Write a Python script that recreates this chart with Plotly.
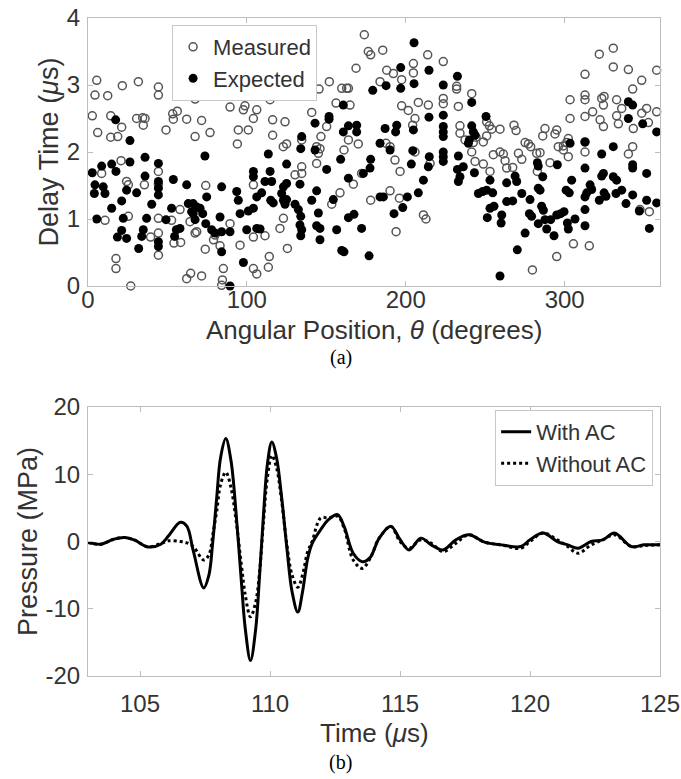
import plotly.graph_objects as go

# ---------------- (a) Delay time vs angular position ----------------
measured_theta = [
    5.5, 4.4, 12.4, 2.7, 6.1, 14.3, 21.2, 14.3, 18.7, 21.6, 31.7, 30.6, 34.4, 35.9, 34.8,
    44.3, 44.3, 49.1, 53.3, 56.2, 53.7, 62.1, 67.4, 71.5, 67.4, 76.8, 89.4, 98.8, 97.8, 106.2,
    104.1, 100.9, 94.6, 94.0, 20.8, 8.6, 24.3, 25.4, 35.5, 44.3, 44.3, 10.7, 25.4, 44.3, 52.6,
    57.9, 64.2, 68.4, 67.4, 39.4, 44.3, 44.3, 54.1, 58.3, 73.8, 74.1, 80.0, 79.0, 83.1, 89.4,
    95.7, 104.1, 104.1, 17.6, 17.6, 26.9, 62.1, 64.6, 71.5, 85.2, 84.6, 84.1, 104.1, 106.2,
    173.9, 176.4, 177.9, 185.5, 168.7, 188.0, 192.2, 204.8, 213.8, 223.6, 151.9, 145.4, 159.7, 162.8, 163.9,
    183.8, 197.4, 204.8, 114.6, 116.2, 124.0, 116.2, 140.8, 156.1, 164.9, 197.4, 201.6, 207.9, 214.2, 205.8,
    223.6, 223.6, 150.2, 146.6, 163.9, 170.1, 161.1, 143.9, 145.0, 143.9, 122.9, 125.0, 134.5, 187.6, 190.1,
    204.3, 205.8, 215.3, 193.2, 196.4, 134.5, 134.5, 130.3, 172.2, 158.6, 153.4, 177.9, 190.1, 196.0, 211.1,
    212.7, 193.9, 123.0, 120.8, 111.4, 125.5, 114.1, 113.5, 167.0, 146.0,
    232.0, 232.0, 241.5, 233.1, 234.1, 234.1, 237.3, 242.5, 244.2, 241.5, 250.9, 252.6, 254.1, 250.9, 248.8,
    243.6, 248.8, 253.0, 259.3, 255.1, 259.3, 261.4, 262.5, 263.5, 267.3, 268.1, 269.4, 270.9, 273.0, 275.1,
    277.2, 278.6, 282.4, 284.5, 282.8, 286.2, 287.6, 290.8, 293.9, 295.0, 299.2, 301.3, 302.3, 302.3, 312.8,
    312.8, 303.4, 303.4, 312.8, 312.8, 312.8, 312.8, 317.6, 321.8, 330.6, 330.6, 340.1, 323.3, 324.8, 324.4,
    322.3, 324.4, 332.7, 335.9, 332.7, 333.8, 342.8, 348.5, 357.9, 343.2, 348.5, 351.6, 352.7, 357.9, 342.8,
    340.1, 347.4, 353.3, 305.5, 315.5, 295.0, 279.7, 296.0, 299.2,
]
measured_delay = [
    3.07, 2.85, 2.84, 2.54, 2.29, 2.54, 2.37, 2.22, 2.23, 2.99, 3.05, 2.50, 2.51, 2.50, 2.40,
    2.97, 2.85, 2.33, 2.57, 2.61, 2.49, 2.49, 2.79, 2.47, 2.23, 2.29, 2.67, 2.69, 2.63, 2.63,
    2.50, 2.33, 2.33, 2.12, 1.87, 1.68, 1.56, 1.51, 1.51, 1.71, 1.52, 0.98, 1.04, 1.01, 0.98,
    1.14, 0.96, 0.81, 0.79, 0.73, 0.79, 0.46, 0.64, 0.65, 0.55, 1.50, 0.76, 0.69, 0.60, 0.93,
    0.61, 1.51, 0.73, 0.41, 0.26, 0.00, 0.11, 0.19, 0.15, 0.26, 0.09, 0.01, 0.26, 0.18,
    3.75, 3.50, 3.45, 3.52, 3.25, 3.22, 3.17, 3.32, 3.45, 3.35, 3.05, 2.94, 2.95, 2.95, 2.95,
    3.05, 3.08, 3.18, 2.78, 2.48, 2.45, 2.25, 2.59, 2.73, 2.70, 2.69, 2.62, 2.74, 2.70, 2.50,
    2.80, 2.72, 2.38, 2.23, 2.18, 2.12, 2.03, 2.08, 1.98, 1.83, 2.08, 2.12, 2.18, 2.13, 2.08,
    2.40, 2.00, 1.83, 1.88, 1.71, 1.78, 1.68, 1.66, 1.68, 1.39, 1.22, 1.28, 1.42, 1.31, 1.06,
    1.00, 0.81, 1.01, 0.86, 0.75, 0.56, 0.44, 0.28, 1.52, 2.05,
    2.98, 2.94, 2.87, 2.68, 2.39, 2.28, 2.18, 2.14, 2.22, 2.00, 2.45, 2.39, 2.34, 2.24, 2.15,
    1.86, 1.82, 1.71, 2.34, 1.96, 2.00, 1.97, 1.87, 1.76, 1.77, 2.40, 2.32, 1.98, 1.89, 2.14,
    2.12, 2.08, 1.98, 1.99, 1.71, 2.24, 2.35, 1.84, 2.27, 2.33, 2.09, 2.14, 1.93, 2.20, 2.00,
    2.15, 2.78, 2.50, 2.85, 2.78, 2.53, 3.16, 2.60, 3.46, 3.55, 3.27, 3.23, 2.80, 2.83, 2.70,
    2.48, 2.38, 2.78, 2.65, 2.54, 2.42, 2.94, 3.07, 3.22, 2.35, 2.58, 2.65, 2.44, 2.60, 2.08,
    1.97, 1.14, 1.11, 0.63, 0.60, 0.44, 0.24, 2.08, 2.03,
]
expected_theta = [
    2.7, 4.4, 4.0, 9.6, 10.7, 8.6, 14.9, 17.6, 14.9, 5.5, 17.4, 26.4, 26.4, 24.3, 30.6,
    21.2, 22.2, 21.2, 18.5, 24.3, 31.9, 33.8, 34.8, 35.9, 35.9, 40.1, 36.9, 44.3, 44.3, 44.3,
    44.3, 44.3, 44.3, 49.1, 53.7, 52.6, 55.6, 57.9, 54.5, 62.1, 63.1, 65.2, 66.2, 68.4, 70.5,
    72.2, 67.4, 66.2, 73.6, 74.7, 74.1, 77.8, 80.0, 84.1, 83.1, 84.1, 89.4, 84.1, 89.4, 93.6,
    94.6, 95.7, 97.8, 99.9, 104.1, 104.1, 106.2, 104.1, 100.9, 106.2,
    205.2, 196.8, 214.6, 196.8, 187.6, 179.2, 205.2, 223.6, 223.6, 214.6, 223.6, 223.6, 223.6, 223.6, 223.6,
    223.6, 160.7, 151.7, 151.7, 142.9, 163.9, 169.1, 160.7, 169.1, 187.0, 194.3, 193.6, 204.8, 183.8, 190.1,
    204.4, 214.8, 214.2, 203.5, 134.5, 133.9, 142.9, 159.0, 150.2, 177.9, 177.5, 173.3, 163.9, 113.5, 125.0,
    111.4, 115.6, 114.6, 123.0, 125.0, 133.4, 109.3, 121.9, 115.0, 116.6, 123.0, 124.0, 125.0, 130.3, 132.4,
    143.9, 140.8, 154.4, 145.0, 133.9, 133.4, 134.5, 133.9, 143.9, 146.0, 146.0, 156.5, 163.9, 167.4, 172.2,
    159.7, 161.1, 176.9, 183.8, 185.9, 198.1, 201.0, 207.9, 192.6, 211.1, 108.3,
    232.5, 241.5, 250.5, 241.5, 242.5, 243.6, 240.0, 239.4, 233.1, 232.5, 236.2, 234.1, 233.1, 243.2, 253.0,
    245.7, 248.4, 250.9, 254.7, 253.0, 255.5, 251.3, 260.4, 260.0, 263.5, 263.5, 267.3, 268.8, 269.8, 273.0,
    278.2, 275.1, 270.2, 259.3, 282.8, 283.4, 286.2, 283.4, 284.5, 277.8, 279.2, 285.5, 286.6, 283.4, 288.7,
    291.2, 287.6, 293.3, 295.0, 295.4, 297.5, 299.6, 302.3, 301.7, 306.5, 300.9, 302.9, 304.4, 303.4, 312.8,
    312.8, 312.8, 313.9, 312.8, 312.8, 316.0, 317.0, 321.8, 323.3, 324.4, 323.3, 324.8, 326.0, 330.6, 330.6,
    332.7, 332.3, 335.9, 338.6, 342.8, 342.8, 342.8, 340.1, 342.8, 340.1, 349.1, 351.6, 351.6, 347.0, 353.3,
    357.9, 357.9,
]
expected_delay = [
    1.69, 1.51, 1.38, 1.48, 1.38, 1.79, 1.82, 1.71, 1.16, 1.00, 2.48, 2.17, 1.85, 1.43, 1.39,
    1.27, 1.01, 0.83, 0.73, 0.71, 0.56, 0.74, 0.84, 1.92, 1.64, 1.22, 1.01, 1.83, 1.56, 1.46,
    1.36, 0.66, 0.59, 0.99, 1.59, 1.16, 0.84, 0.86, 0.74, 1.51, 1.23, 1.11, 1.23, 1.18, 1.16,
    1.08, 0.99, 1.08, 1.94, 1.33, 0.93, 0.84, 0.79, 1.48, 1.03, 0.81, 0.81, 0.51, 0.00, 1.41,
    1.28, 1.08, 0.35, 0.84, 1.71, 1.63, 1.33, 1.16, 1.12, 0.86,
    3.63, 3.26, 3.22, 2.95, 2.99, 2.92, 3.02, 3.00, 2.55, 2.52, 2.38, 2.30, 2.23, 2.00, 1.93,
    1.86, 2.70, 2.53, 2.49, 2.43, 2.39, 2.40, 2.30, 2.30, 2.35, 2.40, 2.30, 2.33, 2.13, 2.03,
    2.02, 1.93, 1.78, 1.82, 2.23, 2.05, 2.03, 1.89, 1.74, 1.89, 1.76, 1.68, 1.61, 1.97, 1.82,
    1.56, 1.56, 1.71, 1.48, 1.53, 1.52, 1.39, 1.38, 1.28, 1.24, 1.28, 1.22, 1.29, 1.22, 1.14,
    1.42, 1.28, 1.29, 1.09, 1.04, 0.91, 0.84, 0.75, 0.90, 0.86, 0.69, 0.84, 1.02, 1.07, 0.86,
    0.53, 0.51, 0.45, 1.33, 1.33, 1.17, 1.33, 1.39, 1.08, 1.58, 0.85,
    3.13, 2.74, 2.53, 2.39, 2.30, 2.25, 2.18, 2.13, 1.94, 1.74, 1.78, 1.63, 1.56, 1.69, 1.58,
    1.38, 1.41, 1.43, 1.39, 1.16, 1.19, 1.02, 1.06, 0.94, 1.54, 1.26, 1.27, 1.64, 1.56, 1.38,
    1.29, 0.79, 0.54, 0.15, 1.84, 1.79, 1.63, 1.46, 1.43, 1.08, 1.04, 1.19, 1.13, 0.93, 0.85,
    0.99, 0.99, 0.75, 1.06, 1.81, 1.08, 1.11, 0.85, 0.94, 1.00, 1.43, 1.39, 1.58, 2.13, 2.15,
    1.76, 1.33, 1.39, 1.14, 0.90, 1.51, 1.44, 1.28, 1.97, 1.68, 1.64, 1.39, 1.34, 2.08, 1.63,
    1.58, 1.38, 1.43, 1.23, 1.81, 1.76, 1.36, 2.75, 2.70, 2.50, 2.42, 1.68, 1.28, 1.12, 0.86,
    2.30, 1.24,
]
theta_ticks = [0, 100, 200, 300]
delay_ticks = [0, 1, 2, 3, 4]

# ---------------- (b) Pressure waveforms ----------------
time_us = [
    103.0, 103.5, 104.0, 104.4, 104.8, 105.3, 105.8, 106.1, 106.55, 106.8, 107.05, 107.45, 107.65,
    107.8, 107.95, 108.1, 108.3, 108.5, 108.7, 108.9, 109.05, 109.25, 109.45, 109.6, 109.75, 109.9,
    110.07, 110.25, 110.45, 110.65, 110.85, 111.07, 111.25, 111.45, 111.62, 111.95, 112.25, 112.6,
    112.85, 113.2, 113.55, 113.85, 114.2, 114.65, 115.0, 115.35, 115.8, 116.2, 116.65, 117.15,
    117.65, 118.25, 118.9, 119.65, 120.0, 120.5, 121.05, 121.45, 121.85, 122.35, 122.8, 123.25,
    123.9, 124.4, 125.0,
]
with_ac = [
    -0.15, -0.4, 0.35, 0.6, 0.2, -0.8, -0.4, 0.85, 2.85, 2.3, -1.4, -6.9, -5.0,
    0.0, 6.5, 12.5, 15.3, 12.0, 4.0, -6.0, -13.0, -17.7, -13.0, -5.0, 4.0, 11.5,
    14.8, 12.5, 6.5, -1.0, -7.5, -10.5, -7.5, -2.5, -0.3, 1.75, 3.25, 4.0,
    2.25, -1.75, -3.0, -2.4, 0.5, 2.25, 0.3, -1.25, 0.5, -0.5, -1.25, 0.25,
    1.0, -0.1, -0.5, -0.75, 0.25, 1.25, 0.0, -0.5, -1.0, 0.0, 0.25, 1.25,
    -0.75, -0.5, -0.5,
]
without_ac = [
    -0.15, -0.4, 0.35, 0.6, 0.2, -0.8, -0.3, 0.1, 0.0, -0.2, -0.75, -2.75, -2.0,
    1.0, 4.5, 8.5, 10.3, 8.0, 3.0, -3.5, -8.0, -11.2, -9.0, -4.5, 3.0, 9.5,
    12.8, 11.0, 6.0, -0.5, -5.0, -6.8, -5.0, -1.5, 0.0, 3.5, 3.5, 3.75,
    2.0, -2.75, -4.0, -2.5, 0.5, 2.25, 0.0, -1.0, 0.25, -0.25, -1.5, -0.25,
    1.0, -0.1, -0.5, -1.0, 0.0, 1.25, 0.25, -0.75, -1.75, -0.5, 0.25, 1.0,
    -0.75, -0.6, -0.5,
]
time_ticks = [105, 110, 115, 120, 125]
pressure_ticks = [-20, -10, 0, 10, 20]
pressure_ticktext = ["-20", "-10", "0", "10", "20"]

# ---------------- figure ----------------
SANS = "Liberation Sans, Arial, Helvetica, sans-serif"
SERIF = "Liberation Serif, Times New Roman, serif"
TXT = "#333333"
AXC = "#bdbdbd"

fig = go.Figure()
fig.add_trace(go.Scatter(
    x=measured_theta, y=measured_delay, mode="markers", name="Measured",
    marker=dict(symbol="circle-open", size=8, color="#555555", line=dict(width=1.5)),
    cliponaxis=False, xaxis="x", yaxis="y", legend="legend",
))
fig.add_trace(go.Scatter(
    x=expected_theta, y=expected_delay, mode="markers", name="Expected",
    marker=dict(symbol="circle", size=9, color="black"),
    cliponaxis=False, xaxis="x", yaxis="y", legend="legend",
))
fig.add_trace(go.Scatter(
    x=time_us, y=with_ac, mode="lines", name="With AC", line_shape="spline",
    line=dict(color="black", width=3), xaxis="x2", yaxis="y2", legend="legend2",
))
fig.add_trace(go.Scatter(
    x=time_us, y=without_ac, mode="lines", name="Without AC", line_shape="spline",
    line=dict(color="black", width=3, dash="dot"), xaxis="x2", yaxis="y2", legend="legend2",
))

axis_common = dict(
    showline=True, linecolor=AXC, linewidth=1, mirror="ticks",
    ticks="inside", ticklen=5, tickcolor=AXC, tickwidth=1,
    showgrid=False, zeroline=False, automargin=False,
    tickfont=dict(family=SANS, size=24, color=TXT),
)
title_font = dict(family=SANS, size=27, color=TXT)
xtitle_font = dict(family=SANS, size=26, color=TXT)

fig.update_layout(
    width=681, height=779,
    margin=dict(l=88, r=21, t=18, b=103),
    paper_bgcolor="white", plot_bgcolor="white",
    xaxis=dict(domain=[0, 1], anchor="y", range=[0, 360], tickvals=theta_ticks,
               ticklabelstandoff=-8, **axis_common),
    yaxis=dict(domain=[0.5927, 1], anchor="x", range=[0, 4], tickvals=delay_ticks,
               title=dict(text="Delay Time (<i>μ</i>s)", font=title_font, standoff=0),
               ticklabelstandoff=2, **axis_common),
    xaxis2=dict(domain=[0, 1], anchor="y2", range=[103, 125], tickvals=time_ticks,
                ticklabelstandoff=6, **axis_common),
    yaxis2=dict(domain=[0, 0.4088], anchor="x2", range=[-20, 20], tickvals=pressure_ticks,
                ticktext=pressure_ticktext,
                title=dict(text="Pressure (MPa)", font=title_font, standoff=0),
                ticklabelstandoff=2, **axis_common),
    legend=dict(x=0.147, y=0.9894, xanchor="left", yanchor="top",
                bgcolor="white", bordercolor="#c8c8c8", borderwidth=1,
                font=dict(family=SANS, size=22, color=TXT), tracegroupgap=0,
                itemwidth=30),
    legend2=dict(x=0.988, y=0.4043, xanchor="right", yanchor="top",
                 bgcolor="white", bordercolor="#c8c8c8", borderwidth=1,
                 font=dict(family=SANS, size=22, color=TXT), tracegroupgap=0,
                 itemwidth=30),
    annotations=[
        dict(text="Angular Position, <i>θ</i> (degrees)", xref="paper", yref="paper",
             x=0.5, y=0.5258, xanchor="center", yanchor="middle", showarrow=False,
             font=xtitle_font),
        dict(text="Time (<i>μ</i>s)", xref="paper", yref="paper",
             x=0.5, y=-0.0866, xanchor="center", yanchor="middle", showarrow=False,
             font=xtitle_font),
        dict(text="(a)", xref="paper", yref="paper", x=0.442, y=0.4833,
             xanchor="center", yanchor="middle", showarrow=False,
             font=dict(family=SERIF, size=20, color="black")),
        dict(text="(b)", xref="paper", yref="paper", x=0.442, y=-0.1307,
             xanchor="center", yanchor="middle", showarrow=False,
             font=dict(family=SERIF, size=20, color="black")),
    ],
)

fig.write_html("out.html", config={"displayModeBar": False},
               post_script="document.body.style.margin='0px';")
